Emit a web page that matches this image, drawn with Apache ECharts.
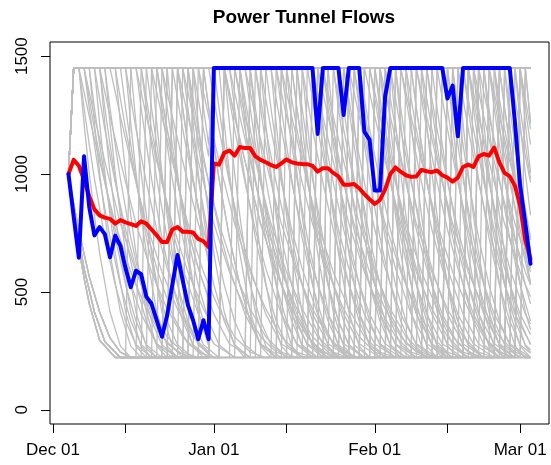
<!DOCTYPE html>
<html>
<head>
<meta charset="utf-8">
<script src="https://cdn.jsdelivr.net/npm/echarts@6/dist/echarts.min.js"></script>
<style>
  html, body { margin: 0; padding: 0; background: #fff; }
  #chart { width: 551px; height: 465px; }
</style>
</head>
<body>
<div id="chart"></div>
<script>
// days are counted from Dec 01 (day 0); the series start on Dec 04
var firstDay = 3;

var xTickDays = [0, 14, 31, 45, 62, 76, 90];
var xLabelDays = [0, 31, 62, 90];
var xLabels = ["Dec 01", "Jan 01", "Feb 01", "Mar 01"];
var yTicks = [0, 500, 1000, 1500];

// highlighted run (blue), one value per day from Dec 04 to Mar 03
var blueFlow = [
  1000, 820, 645, 1075, 860, 740, 775, 745, 647, 739,
  696, 600, 520, 590, 575, 480, 450, 380, 310, 400,
  530, 657, 550, 445, 380, 300, 380, 300, 1450, 1450,
  1450, 1450, 1450, 1450, 1450, 1450, 1450, 1450, 1450, 1450,
  1450, 1450, 1450, 1450, 1450, 1450, 1450, 1450, 1170, 1450,
  1450, 1450, 1450, 1250, 1450, 1450, 1450, 1180, 1145, 930,
  930, 1330, 1450, 1450, 1450, 1450, 1450, 1450, 1450, 1450,
  1450, 1450, 1450, 1320, 1375, 1160, 1450, 1450, 1450, 1450,
  1450, 1450, 1450, 1450, 1450, 1450, 1220, 950, 790, 620
];

// mean of all runs (red)
var meanFlow = [
  1000, 1060, 1035, 975, 905, 850, 825, 815, 810, 790,
  805, 795, 788, 780, 800, 790, 765, 740, 712, 712,
  765, 775, 755, 755, 752, 725, 715, 690, 1045, 1040,
  1090, 1100, 1078, 1115, 1110, 1110, 1075, 1060, 1050, 1038,
  1030, 1045, 1062, 1050, 1045, 1043, 1042, 1035, 1010, 1025,
  1025, 1005, 990, 955, 955, 958, 940, 915, 893, 873,
  890, 935, 1000, 1028, 1010, 995, 988, 990, 1018, 1012,
  1008, 1015, 995, 985, 968, 985, 1030, 1040, 1030, 1075,
  1085, 1078, 1112, 1050, 1005, 990, 950, 865, 720, 640
];

// individual runs (grey), [day, flow]
var grayRuns = [
  [[3,1000],[4,1450],[9,1450],[10,1280],[11,1125],[12,980],[14,730],[16,530],[18,377],[20,276],[23,222],[30,222],[31,1450],[40,1450],[41,1320],[42,1190],[44,965],[46,765],[48,600],[51,406],[54,280],[58,222],[65,222],[66,1450],[75,1450],[76,1280],[77,1125],[78,980],[80,730],[82,530],[84,377],[86,276],[89,222],[92,222]],
  [[3,1000],[4,1450],[6,1450],[7,1320],[8,1190],[10,965],[12,765],[14,600],[17,406],[20,280],[24,222],[30,222],[31,1450],[34,1450],[35,1280],[36,1125],[37,980],[39,730],[41,530],[43,377],[45,276],[48,222],[51,222],[52,1450],[60,1450],[62,1245],[64,1055],[67,790],[70,585],[73,428],[76,310],[79,245],[82,222],[85,222],[86,1450],[89,1450],[90,1215],[91,1005],[92,825]],
  [[3,1000],[4,830],[5,685],[6,560],[7,450],[9,295],[12,222],[19,222],[20,1450],[24,1450],[25,1280],[26,1125],[27,980],[29,730],[31,530],[33,377],[35,276],[38,222],[44,222],[45,1450],[50,1450],[51,1320],[52,1190],[54,965],[56,765],[58,600],[61,406],[64,280],[68,222],[70,222],[71,1450],[80,1450],[81,1280],[82,1125],[83,980],[85,730],[87,530],[89,377],[91,276],[92,255]],
  [[3,1000],[4,1450],[14,1450],[15,1320],[16,1190],[18,965],[20,765],[22,600],[25,406],[28,280],[30,235],[31,1450],[43,1450],[45,1245],[47,1055],[50,790],[53,585],[56,428],[59,310],[62,245],[65,222],[69,222],[70,1450],[84,1450],[85,1280],[86,1125],[87,980],[89,730],[91,530],[92,450]],
  [[3,1000],[4,1450],[5,1450],[6,1215],[7,1005],[8,825],[9,665],[11,415],[13,270],[15,222],[26,222],[27,1450],[29,1450],[30,1280],[31,1125],[32,980],[34,730],[36,530],[38,377],[40,276],[43,222],[54,222],[55,1450],[58,1450],[59,1320],[60,1190],[62,965],[64,765],[66,600],[69,406],[72,280],[76,222],[79,222],[80,1450],[82,1450],[83,1215],[84,1005],[85,825],[86,665],[88,415],[90,270],[92,222]],
  [[3,1000],[4,875],[5,760],[7,565],[9,415],[11,305],[13,245],[15,222],[30,222],[31,1450],[36,1450],[37,1320],[38,1190],[40,965],[42,765],[44,600],[47,406],[50,280],[54,222],[59,222],[60,1450],[63,1450],[64,1280],[65,1125],[66,980],[68,730],[70,530],[72,377],[74,276],[77,222],[85,222],[86,1450],[92,1450]],
  [[3,1000],[4,1450],[18,1450],[19,1280],[20,1125],[21,980],[23,730],[25,530],[27,377],[29,276],[32,222],[37,222],[38,1450],[46,1450],[47,1280],[48,1125],[49,980],[51,730],[53,530],[55,377],[57,276],[60,222],[63,222],[64,1450],[70,1450],[72,1245],[74,1055],[77,790],[80,585],[83,428],[86,310],[89,245],[92,222]],
  [[3,1000],[4,1450],[11,1450],[13,1245],[15,1055],[18,790],[21,585],[24,428],[27,310],[30,245],[31,1450],[52,1450],[53,1280],[54,1125],[55,980],[57,730],[59,530],[61,377],[63,276],[66,222],[73,222],[74,1450],[78,1450],[79,1320],[80,1190],[82,965],[84,765],[86,600],[89,406],[92,280]],
  [[3,1000],[4,1450],[22,1450],[23,1215],[24,1005],[25,825],[26,665],[28,415],[30,270],[31,1450],[33,1450],[34,1320],[35,1190],[37,965],[39,765],[41,600],[44,406],[47,280],[51,222],[56,222],[57,1450],[66,1450],[67,1280],[68,1125],[69,980],[71,730],[73,530],[75,377],[77,276],[80,222],[82,222],[83,1450],[87,1450],[88,1215],[89,1005],[90,825],[91,665],[92,540]],
  [[3,1000],[4,850],[5,720],[6,600],[8,415],[10,290],[13,222],[16,222],[17,1450],[20,1450],[21,1320],[22,1190],[24,965],[26,765],[28,600],[31,406],[34,280],[38,222],[42,222],[43,1450],[47,1450],[48,1280],[49,1125],[50,980],[52,730],[54,530],[56,377],[58,276],[61,222],[66,222],[67,1450],[72,1450],[73,1320],[74,1190],[76,965],[78,765],[80,600],[83,406],[86,280],[90,222],[92,222]],
  [[3,1000],[4,1450],[7,1450],[8,1280],[9,1125],[10,980],[12,730],[14,530],[16,377],[18,276],[21,222],[24,222],[25,1450],[28,1450],[30,1245],[32,1055],[35,790],[38,585],[41,428],[44,310],[47,245],[50,222],[52,222],[53,1450],[57,1450],[58,1215],[59,1005],[60,825],[61,665],[63,415],[65,270],[67,222],[72,222],[73,1450],[76,1450],[77,1280],[78,1125],[79,980],[81,730],[83,530],[85,377],[87,276],[90,222],[92,222]],
  [[3,1000],[4,1450],[16,1450],[18,1245],[20,1055],[23,790],[26,585],[29,428],[30,385],[31,1450],[38,1450],[39,1215],[40,1005],[41,825],[42,665],[44,415],[46,270],[48,222],[49,222],[50,1450],[55,1450],[56,1280],[57,1125],[58,980],[60,730],[62,530],[64,377],[66,276],[69,222],[76,222],[77,1450],[80,1450],[81,1320],[82,1190],[84,965],[86,765],[88,600],[91,406],[92,365]],
  [[3,1000],[4,1450],[25,1450],[26,1280],[27,1125],[28,980],[30,730],[31,1450],[48,1450],[49,1320],[50,1190],[52,965],[54,765],[56,600],[59,406],[62,280],[66,222],[68,222],[69,1450],[73,1450],[74,1280],[75,1125],[76,980],[78,730],[80,530],[82,377],[84,276],[87,222],[89,222],[90,1450],[92,1450]],
  [[3,1000],[4,875],[5,760],[7,565],[9,415],[11,305],[13,245],[15,222],[21,222],[22,1450],[27,1450],[28,1215],[29,1005],[30,825],[31,665],[33,415],[35,270],[37,222],[40,222],[41,1450],[44,1450],[46,1245],[48,1055],[51,790],[54,585],[57,428],[60,310],[63,245],[66,222],[71,222],[72,1450],[88,1450],[89,1215],[90,1005],[91,825],[92,665]],
  [[3,1000],[4,1450],[12,1450],[13,1215],[14,1005],[15,825],[16,665],[18,415],[20,270],[22,222],[34,222],[35,1450],[37,1450],[38,1280],[39,1125],[40,980],[42,730],[44,530],[46,377],[48,276],[51,222],[58,222],[59,1450],[61,1450],[63,1245],[65,1055],[68,790],[71,585],[74,428],[77,310],[80,245],[83,222],[84,222],[85,1450],[90,1450],[91,1280],[92,1125]],
  [[3,1000],[4,1450],[20,1450],[21,1320],[22,1190],[24,965],[26,765],[28,600],[30,475],[31,1450],[41,1450],[42,1280],[43,1125],[44,980],[46,730],[48,530],[50,377],[52,276],[55,222],[61,222],[62,1450],[68,1450],[69,1215],[70,1005],[71,825],[72,665],[74,415],[76,270],[78,222],[80,222],[81,1450],[92,1450]],
  [[3,1000],[4,1450],[8,1450],[9,1320],[10,1190],[12,965],[14,765],[16,600],[19,406],[22,280],[26,222],[28,222],[29,1450],[45,1450],[46,1215],[47,1005],[48,825],[49,665],[51,415],[53,270],[55,222],[57,222],[58,1450],[64,1450],[65,1320],[66,1190],[68,965],[70,765],[72,600],[75,406],[78,280],[82,222],[83,222],[84,1450],[86,1450],[87,1280],[88,1125],[89,980],[91,730],[92,630]],
  [[3,1000],[4,830],[5,685],[6,560],[7,450],[9,295],[12,222],[30,222],[31,1450],[35,1450],[37,1245],[39,1055],[42,790],[45,585],[48,428],[51,310],[54,245],[57,222],[61,222],[62,1450],[71,1450],[72,1215],[73,1005],[74,825],[75,665],[77,415],[79,270],[81,222],[87,222],[88,1450],[92,1450]],
  [[3,1000],[4,1450],[10,1450],[11,1280],[12,1125],[13,980],[15,730],[17,530],[19,377],[21,276],[24,222],[25,222],[26,1450],[30,1450],[31,1320],[32,1190],[34,965],[36,765],[38,600],[41,406],[44,280],[48,222],[50,222],[51,1450],[54,1450],[55,1280],[56,1125],[57,980],[59,730],[61,530],[63,377],[65,276],[68,222],[69,222],[70,1450],[79,1450],[80,1320],[81,1190],[83,965],[85,765],[87,600],[90,406],[92,320]],
  [[3,1000],[4,1450],[13,1450],[14,1280],[15,1125],[16,980],[18,730],[20,530],[22,377],[24,276],[27,222],[30,222],[31,1450],[50,1450],[52,1245],[54,1055],[57,790],[60,585],[63,428],[66,310],[69,245],[72,222],[74,222],[75,1450],[77,1450],[78,1280],[79,1125],[80,980],[82,730],[84,530],[86,377],[88,276],[91,222],[92,222]],
  [[3,1000],[4,1450],[19,1450],[20,1215],[21,1005],[22,825],[23,665],[25,415],[27,270],[29,222],[30,222],[31,1450],[32,1450],[33,1215],[34,1005],[35,825],[36,665],[38,415],[40,270],[42,222],[45,222],[46,1450],[49,1450],[50,1320],[51,1190],[53,965],[55,765],[57,600],[60,406],[63,280],[67,222],[72,222],[73,1450],[83,1450],[84,1280],[85,1125],[86,980],[88,730],[90,530],[92,377]],
  [[3,1000],[4,850],[5,720],[6,600],[8,415],[10,290],[13,222],[23,222],[24,1450],[26,1450],[27,1320],[28,1190],[30,965],[32,765],[34,600],[37,406],[40,280],[44,222],[46,222],[47,1450],[59,1450],[60,1280],[61,1125],[62,980],[64,730],[66,530],[68,377],[70,276],[73,222],[77,222],[78,1450],[81,1450],[83,1245],[85,1055],[88,790],[91,585],[92,530]],
  [[3,1000],[4,1450],[5,1450],[6,1280],[7,1125],[8,980],[10,730],[12,530],[14,377],[16,276],[19,222],[30,222],[31,1450],[44,1450],[45,1280],[46,1125],[47,980],[49,730],[51,530],[53,377],[55,276],[58,222],[62,222],[63,1450],[65,1450],[66,1320],[67,1190],[69,965],[71,765],[73,600],[76,406],[79,280],[83,222],[86,222],[87,1450],[92,1450]],
  [[3,1000],[4,1450],[15,1450],[16,1215],[17,1005],[18,825],[19,665],[21,415],[23,270],[25,222],[27,222],[28,1450],[39,1450],[40,1320],[41,1190],[43,965],[45,765],[47,600],[50,406],[53,280],[57,222],[60,222],[61,1450],[76,1450],[77,1215],[78,1005],[79,825],[80,665],[82,415],[84,270],[86,222],[88,222],[89,1450],[91,1450],[92,1215]],
  [[3,1000],[4,1450],[23,1450],[24,1320],[25,1190],[27,965],[29,765],[30,680],[31,1450],[33,1450],[35,1245],[37,1055],[40,790],[43,585],[46,428],[49,310],[52,245],[55,222],[57,222],[58,1450],[62,1450],[63,1280],[64,1125],[65,980],[67,730],[69,530],[71,377],[73,276],[76,222],[78,222],[79,1450],[85,1450],[86,1215],[87,1005],[88,825],[89,665],[91,415],[92,340]],
  [[3,1000],[4,875],[5,760],[7,565],[9,415],[11,305],[13,245],[15,222],[18,222],[19,1450],[21,1450],[22,1280],[23,1125],[24,980],[26,730],[28,530],[30,377],[32,276],[35,222],[37,222],[38,1450],[53,1450],[54,1215],[55,1005],[56,825],[57,665],[59,415],[61,270],[63,222],[64,222],[65,1450],[67,1450],[69,1245],[71,1055],[74,790],[77,585],[80,428],[83,310],[86,245],[89,222],[90,222],[91,1450],[92,1450]],
  [[3,1000],[4,1450],[9,1450],[11,1245],[13,1055],[16,790],[19,585],[22,428],[25,310],[28,245],[31,222],[32,222],[33,1450],[56,1450],[57,1320],[58,1190],[60,965],[62,765],[64,600],[67,406],[70,280],[74,222],[76,222],[77,1450],[87,1450],[88,1280],[89,1125],[90,980],[92,730]],
  [[3,1000],[4,1450],[26,1450],[27,1215],[28,1005],[29,825],[30,665],[31,1450],[42,1450],[43,1320],[44,1190],[46,965],[48,765],[50,600],[53,406],[56,280],[60,222],[64,222],[65,1450],[69,1450],[70,1280],[71,1125],[72,980],[74,730],[76,530],[78,377],[80,276],[83,222],[85,222],[86,1450],[88,1450],[89,1320],[90,1190],[92,965]],
  [[3,1000],[4,1450],[7,1450],[8,1215],[9,1005],[10,825],[11,665],[13,415],[15,270],[17,222],[20,222],[21,1450],[24,1450],[26,1245],[28,1055],[31,790],[34,585],[37,428],[40,310],[43,245],[46,222],[48,222],[49,1450],[52,1450],[53,1320],[54,1190],[56,965],[58,765],[60,600],[63,406],[66,280],[70,222],[73,222],[74,1450],[81,1450],[82,1215],[83,1005],[84,825],[85,665],[87,415],[89,270],[91,222],[92,222]],
  [[3,1000],[4,830],[5,685],[6,560],[7,450],[9,295],[12,222],[14,222],[15,1450],[17,1450],[18,1320],[19,1190],[21,965],[23,765],[25,600],[28,406],[31,280],[35,222],[38,222],[39,1450],[42,1450],[43,1215],[44,1005],[45,825],[46,665],[48,415],[50,270],[52,222],[55,222],[56,1450],[70,1450],[71,1320],[72,1190],[74,965],[76,765],[78,600],[81,406],[84,280],[88,222],[89,222],[90,1450],[92,1450]],
  [[3,1000],[4,1450],[17,1450],[18,1280],[19,1125],[20,980],[22,730],[24,530],[26,377],[28,276],[31,222],[32,222],[33,1450],[35,1450],[36,1320],[37,1190],[39,965],[41,765],[43,600],[46,406],[49,280],[53,222],[55,222],[56,1450],[58,1450],[59,1280],[60,1125],[61,980],[63,730],[65,530],[67,377],[69,276],[72,222],[74,222],[75,1450],[80,1450],[82,1245],[84,1055],[87,790],[90,585],[92,480]],
  [[3,1000],[4,1450],[21,1450],[23,1245],[25,1055],[28,790],[30,650],[31,1450],[47,1450],[48,1215],[49,1005],[50,825],[51,665],[53,415],[55,270],[57,222],[59,222],[60,1450],[72,1450],[73,1280],[74,1125],[75,980],[77,730],[79,530],[81,377],[83,276],[86,222],[89,222],[90,1450],[92,1450]],
  [[3,1000],[4,1450],[6,1450],[8,1245],[10,1055],[13,790],[16,585],[19,428],[22,310],[25,245],[28,222],[32,222],[33,1450],[36,1450],[37,1280],[38,1125],[39,980],[41,730],[43,530],[45,377],[47,276],[50,222],[53,222],[54,1450],[57,1450],[59,1245],[61,1055],[64,790],[67,585],[70,428],[73,310],[76,245],[79,222],[81,222],[82,1450],[84,1450],[85,1320],[86,1190],[88,965],[90,765],[92,600]],
  [[3,1000],[4,850],[5,720],[6,600],[8,415],[10,290],[13,222],[30,222],[31,1450],[39,1450],[40,1280],[41,1125],[42,980],[44,730],[46,530],[48,377],[50,276],[53,222],[57,222],[58,1450],[63,1450],[65,1245],[67,1055],[70,790],[73,585],[76,428],[79,310],[82,245],[85,222],[87,222],[88,1450],[92,1450]],
  [[3,1000],[4,1450],[28,1450],[29,1280],[30,1125],[31,1450],[51,1450],[53,1245],[55,1055],[58,790],[61,585],[64,428],[67,310],[70,245],[73,222],[75,222],[76,1450],[78,1450],[79,1215],[80,1005],[81,825],[82,665],[84,415],[86,270],[88,222],[90,222],[91,1450],[92,1450]],
  [[3,1000],[4,1450],[10,1450],[11,1215],[12,1005],[13,825],[14,665],[16,415],[18,270],[20,222],[22,222],[23,1450],[26,1450],[27,1280],[28,1125],[29,980],[31,730],[33,530],[35,377],[37,276],[40,222],[43,222],[44,1450],[61,1450],[62,1320],[63,1190],[65,965],[67,765],[69,600],[72,406],[75,280],[79,222],[83,222],[84,1450],[86,1450],[87,1280],[88,1125],[89,980],[91,730],[92,630]],
  [[3,1000],[4,1450],[12,1450],[13,1320],[14,1190],[16,965],[18,765],[20,600],[23,406],[26,280],[30,222],[35,222],[36,1450],[40,1450],[41,1215],[42,1005],[43,825],[44,665],[46,415],[48,270],[50,222],[51,222],[52,1450],[54,1450],[55,1320],[56,1190],[58,965],[60,765],[62,600],[65,406],[68,280],[72,222],[77,222],[78,1450],[81,1450],[82,1280],[83,1125],[84,980],[86,730],[88,530],[90,377],[92,276]],
  [[3,1000],[4,850],[5,720],[6,600],[8,415],[10,290],[13,222],[17,222],[18,1450],[19,1450],[21,1245],[23,1055],[26,790],[29,585],[32,428],[35,310],[38,245],[41,222],[43,222],[44,1450],[46,1450],[47,1280],[48,1125],[49,980],[51,730],[53,530],[55,377],[57,276],[60,222],[61,222],[62,1450],[65,1450],[66,1215],[67,1005],[68,825],[69,665],[71,415],[73,270],[75,222],[79,222],[80,1450],[84,1450],[86,1245],[88,1055],[91,790],[92,720]],
  [[3,1000],[4,1450],[24,1450],[25,1280],[26,1125],[27,980],[29,730],[30,625],[31,1450],[37,1450],[39,1245],[41,1055],[44,790],[47,585],[50,428],[53,310],[56,245],[59,222],[63,222],[64,1450],[67,1450],[68,1320],[69,1190],[71,965],[73,765],[75,600],[78,406],[81,280],[85,222],[86,222],[87,1450],[89,1450],[90,1280],[91,1125],[92,980]],
  [[3,1000],[4,1450],[8,1450],[9,1215],[10,1005],[11,825],[12,665],[14,415],[16,270],[18,222],[25,222],[26,1450],[31,1450],[32,1280],[33,1125],[34,980],[36,730],[38,530],[40,377],[42,276],[45,222],[47,222],[48,1450],[51,1450],[52,1215],[53,1005],[54,825],[55,665],[57,415],[59,270],[61,222],[65,222],[66,1450],[74,1450],[75,1320],[76,1190],[78,965],[80,765],[82,600],[85,406],[88,280],[92,222]],
  [[3,1000],[4,1450],[16,1450],[17,1280],[18,1125],[19,980],[21,730],[23,530],[25,377],[27,276],[30,222],[39,222],[40,1450],[43,1450],[44,1280],[45,1125],[46,980],[48,730],[50,530],[52,377],[54,276],[57,222],[62,222],[63,1450],[66,1450],[67,1215],[68,1005],[69,825],[70,665],[72,415],[74,270],[76,222],[81,222],[82,1450],[85,1450],[86,1320],[87,1190],[89,965],[91,765],[92,680]],
  [[3,1000],[4,875],[5,760],[7,565],[9,415],[11,305],[13,245],[15,222],[23,222],[24,1450],[29,1450],[30,1280],[31,1125],[32,980],[34,730],[36,530],[38,377],[40,276],[43,222],[46,222],[47,1450],[50,1450],[51,1280],[52,1125],[53,980],[55,730],[57,530],[59,377],[61,276],[64,222],[67,222],[68,1450],[71,1450],[72,1320],[73,1190],[75,965],[77,765],[79,600],[82,406],[85,280],[89,222],[90,1450],[91,1450],[92,1215]],
  [[3,1000],[4,1450],[5,1450],[7,1245],[9,1055],[12,790],[15,585],[18,428],[21,310],[24,245],[27,222],[30,222],[31,1450],[33,1450],[34,1215],[35,1005],[36,825],[37,665],[39,415],[41,270],[43,222],[49,222],[50,1450],[52,1450],[54,1245],[56,1055],[59,790],[62,585],[65,428],[68,310],[71,245],[74,222],[79,222],[80,1450],[83,1450],[84,1215],[85,1005],[86,825],[87,665],[89,415],[91,270],[92,245]],
  [[3,1000],[4,1450],[27,1450],[28,1320],[29,1190],[30,1075],[31,1450],[45,1450],[46,1320],[47,1190],[49,965],[51,765],[53,600],[56,406],[59,280],[63,222],[66,222],[67,1450],[69,1450],[70,1280],[71,1125],[72,980],[74,730],[76,530],[78,377],[80,276],[83,222],[87,222],[88,1450],[92,1450]],
  [[3,1000],[4,1450],[14,1450],[15,1215],[16,1005],[17,825],[18,665],[20,415],[22,270],[24,222],[28,222],[29,1450],[34,1450],[36,1245],[38,1055],[41,790],[44,585],[47,428],[50,310],[53,245],[56,222],[58,222],[59,1450],[64,1450],[65,1215],[66,1005],[67,825],[68,665],[70,415],[72,270],[74,222],[75,222],[76,1450],[79,1450],[80,1280],[81,1125],[82,980],[84,730],[86,530],[88,377],[90,276],[92,240]],
  [[3,1000],[4,830],[5,685],[6,560],[7,450],[9,295],[12,222],[21,222],[22,1450],[25,1450],[27,1245],[29,1055],[32,790],[35,585],[38,428],[41,310],[44,245],[47,222],[50,222],[51,1450],[56,1450],[57,1280],[58,1125],[59,980],[61,730],[63,530],[65,377],[67,276],[70,222],[71,222],[72,1450],[77,1450],[78,1215],[79,1005],[80,825],[81,665],[83,415],[85,270],[87,222],[88,222],[89,1450],[92,1450]],
  [[3,1000],[4,1450],[20,1450],[21,1280],[22,1125],[23,980],[25,730],[27,530],[29,377],[30,320],[31,1450],[36,1450],[37,1215],[38,1005],[39,825],[40,665],[42,415],[44,270],[46,222],[52,222],[53,1450],[59,1450],[60,1320],[61,1190],[63,965],[65,765],[67,600],[70,406],[73,280],[77,222],[79,222],[80,1450],[90,1450],[91,1320],[92,1190]],
  [[3,1000],[4,1450],[9,1450],[10,1215],[11,1005],[12,825],[13,665],[15,415],[17,270],[19,222],[30,222],[31,1450],[48,1450],[49,1215],[50,1005],[51,825],[52,665],[54,415],[56,270],[58,222],[59,222],[60,1450],[62,1450],[63,1320],[64,1190],[66,965],[68,765],[70,600],[73,406],[76,280],[80,222],[81,222],[82,1450],[85,1450],[86,1280],[87,1125],[88,980],[90,730],[92,530]],
  [[3,1000],[4,1450],[6,1450],[7,1280],[8,1125],[9,980],[11,730],[13,530],[15,377],[17,276],[20,222],[22,222],[23,1450],[33,1450],[35,1245],[37,1055],[40,790],[43,585],[46,428],[49,310],[52,245],[55,222],[56,222],[57,1450],[63,1450],[64,1215],[65,1005],[66,825],[67,665],[69,415],[71,270],[73,222],[75,222],[76,1450],[82,1450],[84,1245],[86,1055],[89,790],[92,585]],
  [[3,1000],[4,850],[5,720],[6,600],[8,415],[10,290],[13,222],[26,222],[27,1450],[38,1450],[39,1280],[40,1125],[41,980],[43,730],[45,530],[47,377],[49,276],[52,222],[54,222],[55,1450],[68,1450],[69,1320],[70,1190],[72,965],[74,765],[76,600],[79,406],[82,280],[86,222],[87,222],[88,1450],[90,1450],[91,1215],[92,1005]]
];

function daily(values) {
  return values.map(function (v, i) { return [firstDay + i, v]; });
}

var font = "'Liberation Sans', Arial, sans-serif";
var chart = echarts.init(document.getElementById("chart"), null, { renderer: "canvas" });

var series = grayRuns.map(function (run) {
  return {
    type: "line",
    data: run,
    symbol: "none",
    silent: true,
    lineStyle: { color: "#bebebe", width: 1.3 },
    z: 1
  };
});
series.push({
  type: "line",
  data: daily(meanFlow),
  symbol: "none",
  silent: true,
  lineStyle: { color: "#ff0000", width: 4, cap: "round", join: "round" },
  z: 2
});
series.push({
  type: "line",
  data: daily(blueFlow),
  symbol: "none",
  silent: true,
  lineStyle: { color: "#0000ff", width: 4, cap: "round", join: "round" },
  z: 3
});

chart.setOption({
  animation: false,
  backgroundColor: "#fff",
  title: {
    text: "Power Tunnel Flows",
    left: 299,
    textAlign: "center",
    top: 3,
    textStyle: { fontFamily: font, fontSize: 19, fontWeight: "bold", color: "#000" }
  },
  grid: {
    left: 50, right: 2, top: 42, bottom: 41,
    show: true, borderColor: "#000", borderWidth: 1
  },
  xAxis: {
    type: "value",
    min: -0.56,
    max: 95.56,
    axisLine: { show: false, onZero: false },
    splitLine: { show: false },
    axisTick: {
      show: true, length: 9, customValues: xTickDays,
      lineStyle: { color: "#000", width: 1 }
    },
    axisLabel: {
      customValues: xLabelDays,
      margin: 18,
      color: "#000",
      fontFamily: font,
      fontSize: 17,
      formatter: function (v) {
        var i = xLabelDays.indexOf(Math.round(v));
        return i >= 0 ? xLabels[i] : "";
      }
    }
  },
  yAxis: {
    type: "value",
    min: -60,
    max: 1560,
    axisLine: { show: false, onZero: false },
    splitLine: { show: false },
    axisTick: {
      show: true, length: 9, customValues: yTicks,
      lineStyle: { color: "#000", width: 1 }
    },
    axisLabel: {
      customValues: yTicks,
      rotate: 90,
      margin: 19,
      color: "#000",
      fontFamily: font,
      fontSize: 17,
      formatter: function (v) { return String(v); }
    }
  },
  series: series
});
</script>
</body>
</html>
